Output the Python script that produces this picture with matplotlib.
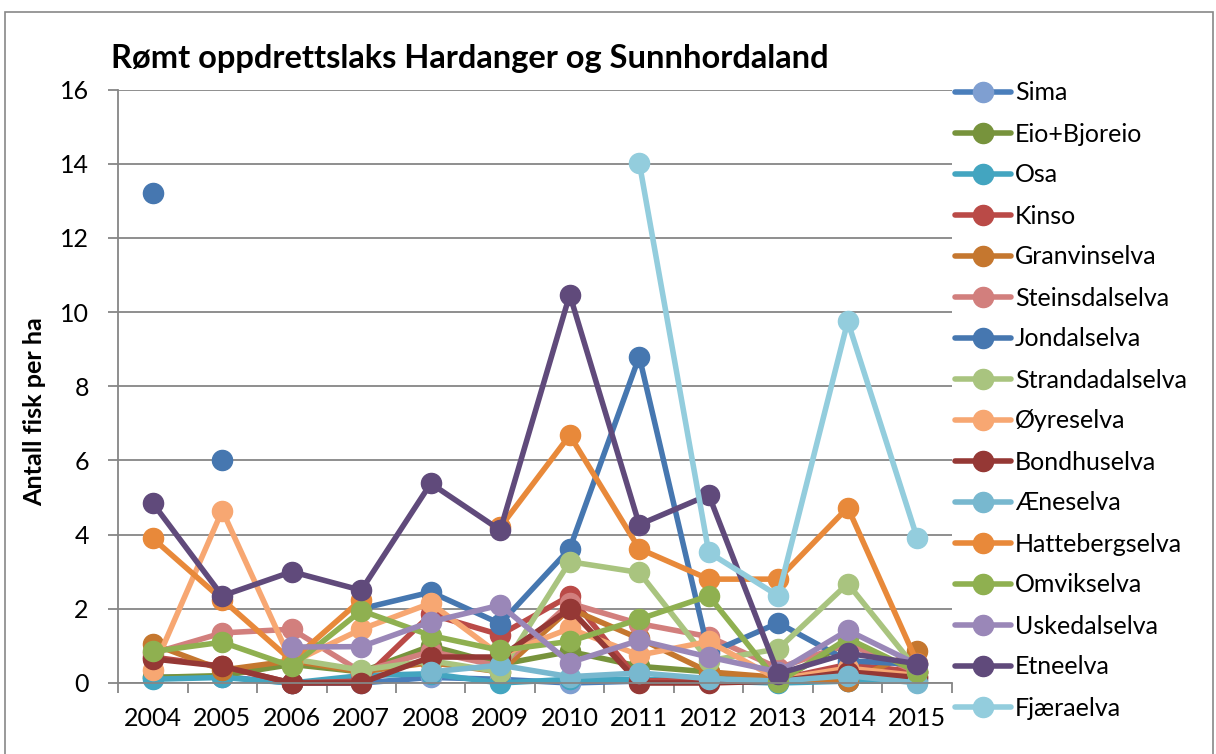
import numpy as np
import matplotlib
matplotlib.use("Agg")
import matplotlib.pyplot as plt
from matplotlib.patches import Rectangle
from matplotlib.ticker import MultipleLocator

plt.rcParams['font.family'] = ['Lato', 'DejaVu Sans']

nan = np.nan
years = [2004, 2005, 2006, 2007, 2008, 2009, 2010, 2011, 2012, 2013, 2014, 2015]

sima = [0.15, 0.17, 0.0, 0.0, 0.15, 0.1, 0.0, 0.05, 0.1, 0.05, 0.05, 0.1]
eio_bjoreio = [0.15, 0.2, 0.5, 0.3, 1.0, 0.5, 0.85, 0.45, 0.3, 0.05, 1.1, 0.3]
osa = [0.1, 0.15, 0.0, 0.2, 0.25, 0.0, 0.1, 0.1, 0.05, 0.0, 0.05, 0.05]
kinso = [0.7, 0.45, 0.0, 0.05, 1.85, 1.3, 2.35, 0.05, 0.1, 0.1, 0.5, 0.3]
granvinselva = [1.05, 0.35, 0.6, 0.3, 0.55, 0.3, 2.0, 1.2, 0.3, 0.15, 0.05, 0.85]
steinsdalselva = [0.8, 1.35, 1.45, 0.3, 0.85, 0.45, 2.15, 1.6, 1.25, 0.4, 1.05, 0.3]
jondalselva = [13.2, 6.0, nan, 2.0, 2.45, 1.6, 3.62, 8.8, 0.8, 1.62, 0.6, 0.5]
strandadalselva = [nan, nan, 0.65, 0.35, 0.6, 0.3, 3.27, 2.98, 0.6, 0.92, 2.68, 0.35]
oyreselva = [0.35, 4.65, 0.55, 1.45, 2.15, 0.75, 1.47, 0.75, 1.12, 0.1, 0.4, 0.2]
bondhuselva = [0.65, 0.45, 0.0, 0.0, 0.7, 0.7, 2.0, 0.0, 0.0, 0.05, 0.3, 0.15]
aeneselva = [nan, nan, nan, nan, 0.3, 0.48, 0.17, 0.27, 0.12, 0.05, 0.2, 0.0]
hattebergselva = [3.9, 2.25, 0.6, 2.25, nan, 4.2, 6.68, 3.62, 2.8, 2.8, 4.73, 0.55]
omvikselva = [0.85, 1.1, 0.45, 1.95, 1.28, 0.88, 1.12, 1.72, 2.35, 0.02, 1.2, 0.3]
uskedalselva = [nan, nan, 0.97, 0.98, 1.65, 2.1, 0.55, 1.15, 0.7, 0.3, 1.42, 0.5]
etneelva = [4.85, 2.35, 3.0, 2.5, 5.38, 4.12, 10.47, 4.27, 5.07, 0.25, 0.8, 0.52]
fjaeraelva = [nan, nan, nan, nan, nan, nan, nan, 14.03, 3.52, 2.35, 9.75, 3.9]

names = ["Sima", "Eio+Bjoreio", "Osa", "Kinso", "Granvinselva", "Steinsdalselva",
         "Jondalselva", "Strandadalselva", "Øyreselva", "Bondhuselva", "Æneselva",
         "Hattebergselva", "Omvikselva", "Uskedalselva", "Etneelva", "Fjæraelva"]
series = [sima, eio_bjoreio, osa, kinso, granvinselva, steinsdalselva,
          jondalselva, strandadalselva, oyreselva, bondhuselva, aeneselva,
          hattebergselva, omvikselva, uskedalselva, etneelva, fjaeraelva]
line_colors = ["#4A7EBB", "#77933C", "#43A5C0", "#BA4A47", "#C5772F", "#D27F7D",
               "#4677B0", "#A9C47F", "#F7A772", "#953835", "#78B8CF",
               "#E8893A", "#8FB050", "#9A87B8", "#604A7B", "#93CDDD"]
marker_colors = ["#7F9FD1"] + line_colors[1:]

fig = plt.figure(figsize=(12.16, 7.54), dpi=100)
ax = fig.add_axes([118 / 1216, 71 / 754, 834 / 1216, 593.5 / 754])

x = np.arange(len(years))
handles = []
for name, vals, lc, mc in zip(names, series, line_colors, marker_colors):
    vals = np.array(vals, dtype=float)
    style = dict(color=lc, lw=4, marker='o', ms=14.5, mfc=mc, mec=mc, solid_capstyle='round')
    if name == "Jondalselva":
        # the first two years stand alone in the source chart
        ax.plot(x[:2], vals[:2], ls='none', marker='o', ms=14.5, mfc=mc, mec=mc)
        h, = ax.plot(x[2:], vals[2:], label=name, **style)
    else:
        h, = ax.plot(x, vals, label=name, **style)
    handles.append(h)

ax.set_xlim(-0.5, len(years) - 0.5)
ax.set_ylim(0, 16)
ax.yaxis.set_major_locator(MultipleLocator(2))
ax.set_xticks(x)
ax.set_xticklabels([str(y) for y in years])
ax.set_xticks(np.arange(-0.5, len(years), 1), minor=True)
ax.tick_params(axis='x', which='major', length=0, pad=17, labelsize=18)
ax.tick_params(axis='x', which='minor', length=7, width=1.3, color='#868686', direction='out')
ax.tick_params(axis='y', length=7, width=1.3, color='#868686', pad=14, labelsize=18)
ax.grid(axis='y', color='#868686', lw=1.3)
ax.set_axisbelow(True)
for s in ['top', 'right']:
    ax.spines[s].set_visible(False)
for s in ['left', 'bottom']:
    ax.spines[s].set_color('#868686')
    ax.spines[s].set_linewidth(1.3)
for ln in ax.lines:
    ln.set_clip_on(False)

fig.text(111 / 1216, 1 - 68 / 754, "Rømt oppdrettslaks Hardanger og Sunnhordaland",
         fontsize=23.5, fontweight='bold', ha='left', va='baseline')
fig.text(35 / 1216, 1 - 412 / 754, "Antall fisk per ha", rotation=90,
         fontsize=18.2, fontweight='bold', ha='center', va='center')

fig.legend(handles=handles, loc='upper left', bbox_to_anchor=(955 / 1216, 1 - 81.5 / 754),
           frameon=False, fontsize=18, handlelength=2.25, handletextpad=0.15,
           labelspacing=0.72, borderpad=0, borderaxespad=0)

fig.patches.append(Rectangle((5 / 1216, -0.1), 1208 / 1216, 1.1 - 12 / 754,
                             transform=fig.transFigure, fill=False,
                             edgecolor='#878787', lw=1.2))

fig.savefig("out.png", dpi=100)
